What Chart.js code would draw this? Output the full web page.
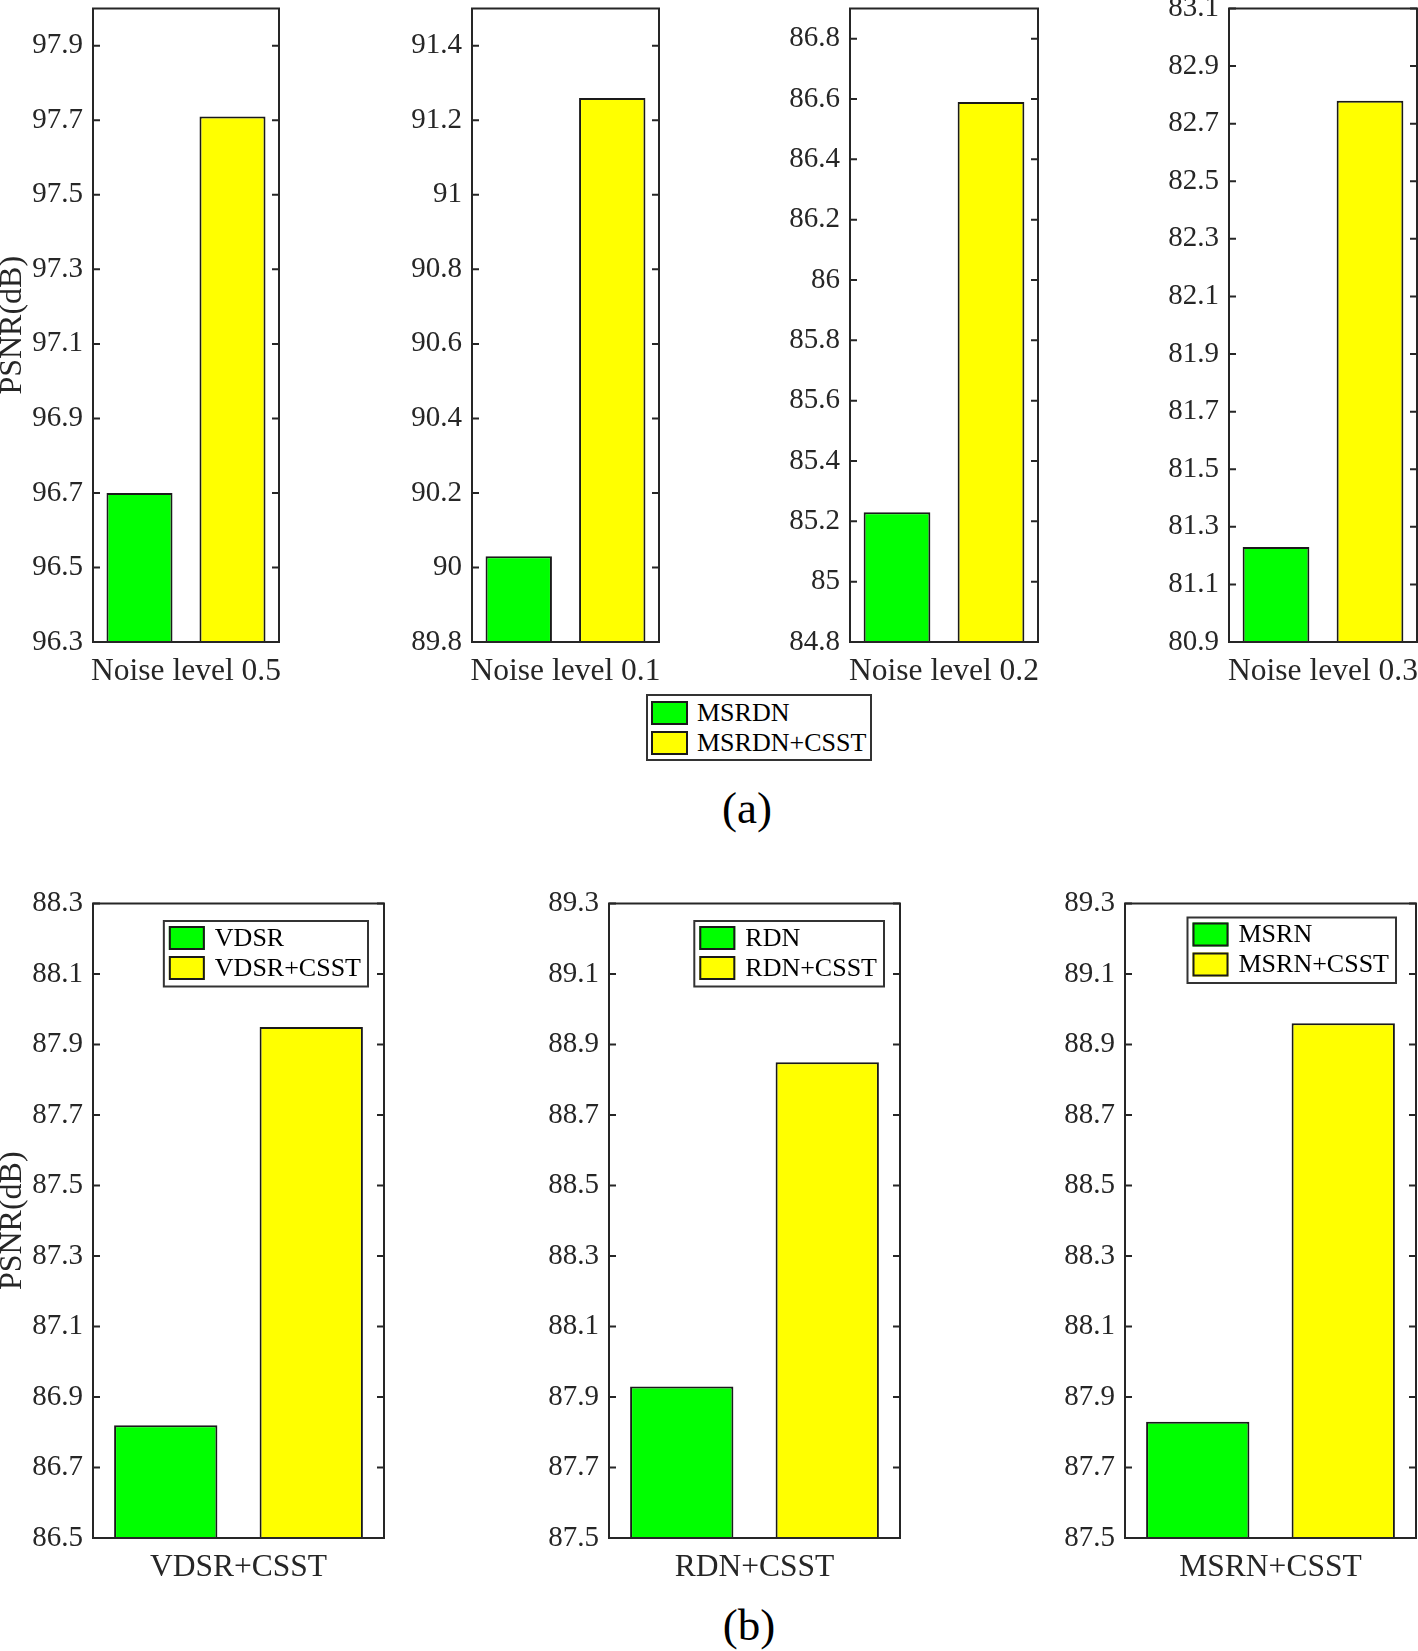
<!DOCTYPE html>
<html>
<head>
<meta charset="utf-8">
<script src="https://cdn.jsdelivr.net/npm/chart.js@4.4.1/dist/chart.umd.min.js"></script>
<style>
  body { margin: 0; background: #fff; width: 1418px; height: 1651px; position: relative; overflow: hidden;
         font-family: "Liberation Serif", "Times New Roman", serif; color: #262626; }
  .panel { position: absolute; }
  .legendA { position: absolute; left: 646px; top: 694px; width: 226px; height: 67px; box-sizing: border-box;
             border: 2px solid #333; background: #fff; }
  .legendA .sw { position: absolute; left: 3px; width: 37px; height: 24px; box-sizing: border-box; border: 2px solid #1a1a1a; }
  .legendA .tx { position: absolute; left: 49px; font-size: 26px; line-height: 30px; color: #000; white-space: nowrap; }
  .cap { position: absolute; width: 200px; text-align: center; font-size: 45px; line-height: 45px; color: #000; }
</style>
</head>
<body>

<div class="legendA">
  <div class="sw" style="top:4.7px; background:#00ff00"></div>
  <div class="tx" style="top:1.5px">MSRDN</div>
  <div class="sw" style="top:34.7px; background:#ffff00"></div>
  <div class="tx" style="top:32px">MSRDN+CSST</div>
</div>
<div class="cap" style="left:647px; top:786px">(a)</div>
<div class="cap" style="left:649px; top:1603px">(b)</div>

<script>
// row (a): MSRDN with / without CSST at four noise levels
const noiseLabels = ['Noise level 0.5', 'Noise level 0.1', 'Noise level 0.2', 'Noise level 0.3'];
const msrdnPsnr = [96.70, 90.03, 85.23, 81.23];
const msrdnCsstPsnr = [97.71, 91.26, 86.59, 82.78];
const noiseTicks = [
  [96.3, 96.5, 96.7, 96.9, 97.1, 97.3, 97.5, 97.7, 97.9],
  [89.8, 90, 90.2, 90.4, 90.6, 90.8, 91, 91.2, 91.4],
  [84.8, 85, 85.2, 85.4, 85.6, 85.8, 86, 86.2, 86.4, 86.6, 86.8],
  [80.9, 81.1, 81.3, 81.5, 81.7, 81.9, 82.1, 82.3, 82.5, 82.7, 82.9, 83.1]
];
const noiseYMax = [98.0, 91.5, 86.9, 83.1];

// row (b): three networks with / without CSST
const modelLabels = ['VDSR+CSST', 'RDN+CSST', 'MSRN+CSST'];
const baseModels = ['VDSR', 'RDN', 'MSRN'];
const basePsnr = [86.82, 87.93, 87.83];
const csstPsnr = [87.95, 88.85, 88.96];
const modelTicks = [
  [86.5, 86.7, 86.9, 87.1, 87.3, 87.5, 87.7, 87.9, 88.1, 88.3],
  [87.5, 87.7, 87.9, 88.1, 88.3, 88.5, 88.7, 88.9, 89.1, 89.3],
  [87.5, 87.7, 87.9, 88.1, 88.3, 88.5, 88.7, 88.9, 89.1, 89.3]
];

const FONT = '"Liberation Serif", "Times New Roman", serif';
const INK = '#262626';
const GREEN = '#00ff00';
const YELLOW = '#ffff00';
const Y_W = 93;

// matlab style box with inward ticks on both sides
const matFrame = {
  id: 'matFrame',
  afterDatasetsDraw(chart) {
    const { ctx, chartArea: a } = chart;
    const ys = chart.scales.y;
    ctx.save();
    ctx.strokeStyle = INK;
    ctx.lineWidth = 2;
    ys.ticks.forEach(t => {
      const y = ys.getPixelForValue(t.value);
      ctx.beginPath();
      ctx.moveTo(a.left, y); ctx.lineTo(a.left + 7, y);
      ctx.moveTo(a.right, y); ctx.lineTo(a.right - 7, y);
      ctx.stroke();
    });
    ctx.strokeRect(a.left, a.top, a.right - a.left, a.bottom - a.top);
    ctx.restore();
  }
};

// boxed legend inside the plot, top right
const boxLegend = {
  id: 'boxLegend',
  afterDraw(chart, args, opts) {
    if (!opts.show) return;
    const { ctx, chartArea: a } = chart;
    const sets = chart.data.datasets;
    ctx.save();
    ctx.font = '26px ' + FONT;
    const tw = Math.max(...sets.map(d => ctx.measureText(d.label).width));
    const w = 5 + 36 + 10 + tw + 7;
    const h = 5 + sets.length * 30 + 0.5;
    const x = a.right - opts.right - w;
    const y = a.top + opts.top;
    ctx.fillStyle = '#fff';
    ctx.fillRect(x, y, w, h);
    ctx.strokeStyle = '#333';
    ctx.lineWidth = 2;
    ctx.strokeRect(x, y, w, h);
    sets.forEach((d, i) => {
      const sy = y + 5 + i * 30;
      ctx.fillStyle = d.backgroundColor;
      ctx.fillRect(x + 5, sy, 36, 24);
      ctx.strokeStyle = '#1a1a1a';
      ctx.strokeRect(x + 6, sy + 1, 34, 22);
      ctx.fillStyle = '#000';
      ctx.textBaseline = 'middle';
      ctx.textAlign = 'left';
      ctx.fillText(d.label, x + 51, sy + 13);
    });
    ctx.restore();
  }
};

function makePanel(p) {
  const wrap = document.createElement('div');
  wrap.className = 'panel';
  const cl = p.left - Y_W;
  wrap.style.left = cl + 'px';
  wrap.style.top = p.top + 'px';
  wrap.style.width = (p.right - cl + 2) + 'px';
  wrap.style.height = p.height + 'px';
  const cv = document.createElement('canvas');
  wrap.appendChild(cv);
  document.body.appendChild(wrap);

  new Chart(cv, {
    type: 'bar',
    data: {
      labels: [p.category],
      datasets: [
        { label: p.names[0], data: [p.values[0]], backgroundColor: GREEN },
        { label: p.names[1], data: [p.values[1]], backgroundColor: YELLOW }
      ]
    },
    options: {
      responsive: true,
      maintainAspectRatio: false,
      animation: false,
      events: [],
      layout: { padding: { top: p.padTop, right: 2, bottom: 0, left: 0 } },
      datasets: {
        bar: {
          borderColor: '#1a1a1a',
          borderWidth: 2,
          borderSkipped: false,
          categoryPercentage: 1.0,
          barPercentage: 0.71
        }
      },
      scales: {
        x: {
          grid: { display: false, drawTicks: false },
          border: { display: false },
          ticks: {
            color: INK,
            font: { family: FONT, size: 31.5 },
            padding: 11,
            maxRotation: 0,
            minRotation: 0,
            autoSkip: false
          },
          afterFit: s => { s.height = p.xHeight; s.paddingLeft = 0; s.paddingRight = 0; }
        },
        y: {
          min: p.ticks[0],
          max: p.max,
          grid: { display: false, drawTicks: false },
          border: { display: false },
          ticks: {
            color: INK,
            font: { family: FONT, size: 29 },
            padding: 10,
            autoSkip: false,
            callback: v => String(+Number(v).toFixed(1))
          },
          title: {
            display: p.yTitle,
            text: 'PSNR(dB)',
            color: INK,
            font: { family: FONT, size: 32, lineHeight: 0.8 },
            padding: 0
          },
          afterBuildTicks: s => { s.ticks = p.ticks.map(v => ({ value: v })); },
          afterFit: s => { s.width = Y_W; s.paddingTop = 0; s.paddingBottom = 0; }
        }
      },
      plugins: {
        legend: { display: false },
        tooltip: { enabled: false },
        boxLegend: p.legend || { show: false }
      }
    },
    plugins: [matFrame, boxLegend]
  });
}

const rowA = [{ left: 93, right: 279 }, { left: 472, right: 659 }, { left: 850, right: 1038 }, { left: 1229, right: 1417 }];
rowA.forEach((r, i) => makePanel({
  left: r.left, right: r.right, top: 0, height: 700, padTop: 8.5, xHeight: 58,
  category: noiseLabels[i],
  names: ['MSRDN', 'MSRDN+CSST'],
  values: [msrdnPsnr[i], msrdnCsstPsnr[i]],
  ticks: noiseTicks[i], max: noiseYMax[i],
  yTitle: i === 0
}));

const rowB = [
  { left: 93, right: 384, lg: { show: true, right: 16, top: 17.5 } },
  { left: 609, right: 900, lg: { show: true, right: 16, top: 17.5 } },
  { left: 1125, right: 1416, lg: { show: true, right: 20, top: 14 } }
];
rowB.forEach((r, i) => makePanel({
  left: r.left, right: r.right, top: 880, height: 720, padTop: 23.5, xHeight: 62,
  category: modelLabels[i],
  names: [baseModels[i], modelLabels[i]],
  values: [basePsnr[i], csstPsnr[i]],
  ticks: modelTicks[i], max: modelTicks[i][modelTicks[i].length - 1],
  yTitle: i === 0,
  legend: r.lg
}));
</script>
</body>
</html>
